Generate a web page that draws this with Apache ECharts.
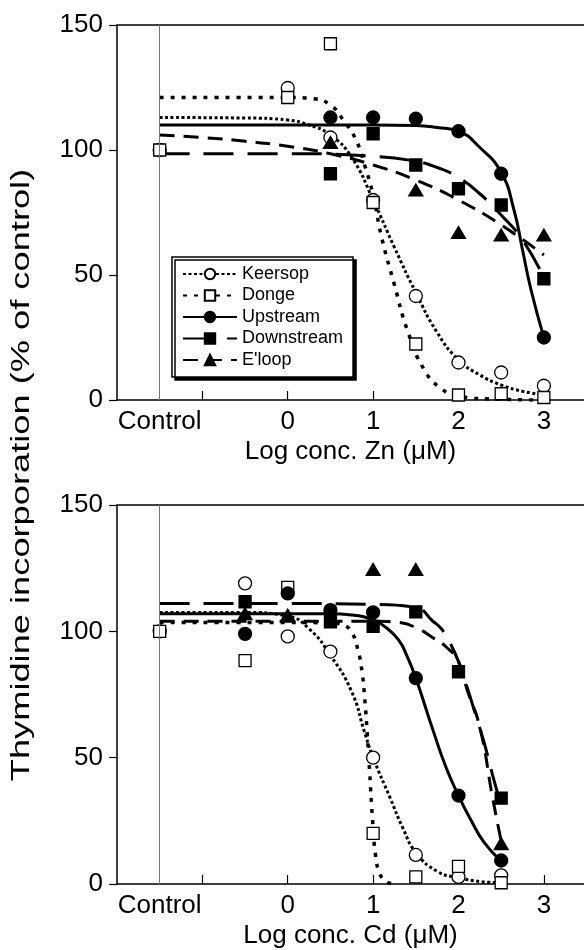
<!DOCTYPE html>
<html>
<head>
<meta charset="utf-8">
<script src="https://cdn.jsdelivr.net/npm/echarts@6/dist/echarts.min.js"></script>
<style>
  html, body { margin: 0; padding: 0; background: #fff; }
  #chart { width: 584px; height: 950px; }
</style>
</head>
<body>
<div id="chart"></div>
<script>
// x position used for the "Control" column (left of log 0)
const CTRL = -1.5;
const SAMPLES = ['Keersop', 'Donge', 'Upstream', 'Downstream', "E'loop"];

// ---- Zn panel: measured points ----
const ZN_X = [CTRL, 0, 0.5, 1, 1.5, 2, 2.5, 3];
const ZN_KEERSOP = [100, 124.8, 105, 80, 41.6, 15, 11, 5.7];
const ZN_DONGE = [100, 121, 142.5, 79, 22.4, 2, 2.5, 1];
const ZN_UPSTREAM = [null, null, 113, 113, 112.5, 107.5, 90.5, 25];
const ZN_DOWNSTREAM = [null, null, 90.5, 106.5, 94, 84.5, 78, 48.5];
const ZN_ELOOP = [null, null, 103, null, 84, 67, 66, 66];

// ---- Zn panel: fitted curves ----
const ZN_KEERSOP_CX = [CTRL, -0.5, 0, 0.25, 0.5, 0.75, 1, 1.25, 1.5, 1.75, 2, 2.25, 2.5, 2.75, 3];
const ZN_KEERSOP_CY = [113, 112.8, 112, 110, 106, 97, 80, 61, 43, 27, 16, 10, 6, 3.5, 2];
const ZN_DONGE_CX = [CTRL, 0, 0.3, 0.5, 0.65, 0.8, 0.9, 1, 1.1, 1.25, 1.4, 1.6, 1.8, 2, 2.5, 3];
const ZN_DONGE_CY = [121, 121, 120.5, 118, 112, 104, 94, 82, 65, 46, 28, 12, 4.5, 1.5, 0.3, 0];
const ZN_UPSTREAM_CX = [CTRL, 0, 1, 1.5, 1.75, 2, 2.25, 2.5, 2.65, 2.75, 2.85, 3];
const ZN_UPSTREAM_CY = [110, 110, 110, 109.8, 109, 107.5, 101, 91, 76, 60, 44, 25];
const ZN_DOWNSTREAM_CX = [CTRL, 0, 1, 1.5, 1.75, 2, 2.25, 2.5, 2.75, 3];
const ZN_DOWNSTREAM_CY = [98.5, 98.5, 97.5, 95.5, 93, 89, 82.5, 74, 64, 49];
const ZN_ELOOP_CX = [CTRL, -1, -0.5, 0, 0.5, 1, 1.5, 2, 2.5, 3];
const ZN_ELOOP_CY = [106, 105, 103.5, 101.5, 98.5, 94, 88, 80, 70, 58];

// ---- Cd panel: measured points ----
const CD_X = [CTRL, -0.5, 0, 0.5, 1, 1.5, 2, 2.5];
const CD_KEERSOP = [100, 119, 98, 92, 50, 11.5, 2.8, 3.4];
const CD_DONGE = [100, 88.4, 117.4, null, 20, 2.8, 7, 0.5];
const CD_UPSTREAM = [null, 99, 115, 108.4, 107.5, 81.5, 35, 9.3];
const CD_DOWNSTREAM = [null, 111.7, null, 103.8, 102, 107.7, 84, 34];
const CD_ELOOP = [null, 107, 106.4, null, 124.5, 124.5, null, 16];

// ---- Cd panel: fitted curves ----
const CD_KEERSOP_CX = [CTRL, -0.5, 0, 0.25, 0.5, 0.75, 0.9, 1, 1.2, 1.35, 1.5, 1.75, 2, 2.25, 2.5];
const CD_KEERSOP_CY = [107.5, 107.5, 106, 101, 90.5, 76, 60, 50, 34, 22, 12.5, 5, 2.5, 1, 0.5];
const CD_DONGE_CX = [CTRL, 0, 0.5, 0.65, 0.75, 0.82, 0.87, 0.9, 0.93, 0.96, 0.99, 1.03, 1.08, 1.15, 1.25];
const CD_DONGE_CY = [103.5, 103.5, 103.3, 102.5, 99.5, 93, 84, 74, 60, 44, 27, 11, 4, 1, 0];
const CD_UPSTREAM_CX = [CTRL, 0, 0.5, 0.75, 1, 1.15, 1.3, 1.4, 1.5, 1.7, 1.85, 2, 2.15, 2.3, 2.5];
const CD_UPSTREAM_CY = [107, 107, 107, 106.5, 104.5, 101.5, 96.5, 90, 81.5, 61, 46.5, 35, 25, 16.5, 9];
const CD_DOWNSTREAM_CX = [CTRL, 0, 1, 1.5, 1.7, 1.8, 1.9, 2, 2.1, 2.2, 2.3, 2.4, 2.5];
const CD_DOWNSTREAM_CY = [111, 111, 110.7, 109.5, 104, 101, 95.5, 88, 78, 67, 56, 43, 31];
const CD_ELOOP_CX = [CTRL, 0, 1, 1.3, 1.5, 1.7, 1.85, 2, 2.1, 2.25, 2.4, 2.5];
const CD_ELOOP_CY = [104, 104, 104, 103.5, 101.5, 97.5, 94, 88, 77, 62, 34, 17];

const FONT = "'Liberation Sans', Arial, Helvetica, sans-serif";

// look of each sample: marker + line dash
const LOOK = {
  'Keersop':    { symbol: 'circle',   size: 13, fill: '#fff', dash: [3, 2.5], width: 3 },
  'Donge':      { symbol: 'rect',     size: 12, fill: '#fff', dash: [4, 7],   width: 3.5 },
  'Upstream':   { symbol: 'circle',   size: 13, fill: '#000', dash: 'solid',  width: 3 },
  'Downstream': { symbol: 'rect',     size: 12, fill: '#000', dash: [30, 14], width: 3 },
  "E'loop":     { symbol: 'triangle', size: [14, 12], fill: '#000', dash: [15, 9], width: 3 }
};

function pairs(xs, ys) {
  const out = [];
  xs.forEach((x, i) => { if (ys[i] != null) out.push([x, ys[i]]); });
  return out;
}

function panelSeries(axisIdx, curves, points, xs) {
  const list = [];
  SAMPLES.forEach((name, i) => {
    const lk = LOOK[name];
    const s = {
      name: name,
      type: 'line',
      xAxisIndex: axisIdx, yAxisIndex: axisIdx,
      data: pairs(curves[i][0], curves[i][1]),
      smooth: 0.5,
      showSymbol: false,
      symbol: lk.symbol,
      symbolSize: lk.size,
      itemStyle: { color: lk.fill, borderColor: '#000', borderWidth: 1.3 },
      lineStyle: { color: '#000', width: lk.width, type: lk.dash },
      z: 2
    };
    if (i === 0) {
      // thin vertical line marking the control column
      s.markLine = {
        silent: true, symbol: 'none', label: { show: false },
        lineStyle: { color: '#777', width: 1, type: 'solid' },
        data: [{ xAxis: CTRL }]
      };
    }
    list.push(s);
  });
  SAMPLES.forEach((name, i) => {
    const lk = LOOK[name];
    list.push({
      name: name,
      type: 'scatter',
      xAxisIndex: axisIdx, yAxisIndex: axisIdx,
      data: pairs(xs, points[i]),
      symbol: lk.symbol,
      symbolSize: lk.size,
      itemStyle: { color: lk.fill, borderColor: '#000', borderWidth: 1.3, opacity: 1 },
      z: 3
    });
  });
  return list;
}

function xAxisFor(grid, title) {
  return {
    type: 'value', gridIndex: grid, min: -2, max: 3.47,
    axisLine: { onZero: false, lineStyle: { color: '#000', width: 1.5 } },
    axisTick: { inside: true, length: 9, lineStyle: { color: '#000', width: 1.2 }, customValues: [-1, 0, 1, 2, 3] },
    axisLabel: {
      customValues: [CTRL, 0, 1, 2, 3],
      formatter: v => (v < -1 ? 'Control' : String(v)),
      color: '#000', fontSize: 26, fontFamily: FONT, margin: 9
    },
    splitLine: { show: false },
    name: title, nameLocation: 'middle', nameGap: 39,
    nameTextStyle: { color: '#000', fontSize: 26, fontFamily: FONT }
  };
}

function topBorder(grid) {
  return {
    type: 'value', gridIndex: grid, position: 'top', min: -2, max: 3.47,
    axisLine: { onZero: false, lineStyle: { color: '#000', width: 1.5 } },
    axisTick: { show: false }, axisLabel: { show: false }, splitLine: { show: false }
  };
}

function yAxisFor(grid) {
  return {
    type: 'value', gridIndex: grid, min: 0, max: 150, interval: 50,
    axisLine: { show: true, onZero: false, lineStyle: { color: '#000', width: 1.5 } },
    axisTick: { show: true, length: 8, lineStyle: { color: '#000', width: 1.2 } },
    axisLabel: { color: '#000', fontSize: 26, fontFamily: FONT, margin: 14 },
    splitLine: { show: false }
  };
}

const chart = echarts.init(document.getElementById('chart'), null, { renderer: 'canvas' });

const znCurves = [
  [ZN_KEERSOP_CX, ZN_KEERSOP_CY], [ZN_DONGE_CX, ZN_DONGE_CY], [ZN_UPSTREAM_CX, ZN_UPSTREAM_CY],
  [ZN_DOWNSTREAM_CX, ZN_DOWNSTREAM_CY], [ZN_ELOOP_CX, ZN_ELOOP_CY]
];
const znPoints = [ZN_KEERSOP, ZN_DONGE, ZN_UPSTREAM, ZN_DOWNSTREAM, ZN_ELOOP];
const cdCurves = [
  [CD_KEERSOP_CX, CD_KEERSOP_CY], [CD_DONGE_CX, CD_DONGE_CY], [CD_UPSTREAM_CX, CD_UPSTREAM_CY],
  [CD_DOWNSTREAM_CX, CD_DOWNSTREAM_CY], [CD_ELOOP_CX, CD_ELOOP_CY]
];
const cdPoints = [CD_KEERSOP, CD_DONGE, CD_UPSTREAM, CD_DOWNSTREAM, CD_ELOOP];

const option = {
  animation: false,
  backgroundColor: '#fff',
  textStyle: { fontFamily: FONT },
  grid: [
    { left: 117, top: 25, right: 0, height: 375 },
    { left: 117, top: 505, right: 0, height: 379 }
  ],
  // axes 0/1 carry data, 2/3 only draw the top frame line
  xAxis: [xAxisFor(0, 'Log conc. Zn (μM)'), xAxisFor(1, 'Log conc. Cd (μM)'), topBorder(0), topBorder(1)],
  yAxis: [yAxisFor(0), yAxisFor(1)],
  legend: {
    data: SAMPLES,
    orient: 'vertical',
    left: 172, top: 257,
    itemWidth: 54, itemHeight: 13, itemGap: 3.5,
    padding: [8, 10, 8, 10],
    backgroundColor: '#fff',
    borderColor: '#000', borderWidth: 1.5,
    shadowColor: '#000', shadowOffsetX: 3, shadowOffsetY: 3, shadowBlur: 0,
    selectedMode: false,
    textStyle: { color: '#000', fontSize: 18, fontFamily: FONT }
  },
  graphic: [{
    type: 'text', x: 10, y: 475, rotation: Math.PI / 2, scaleX: 1.45,
    style: {
      text: 'Thymidine incorporation (% of control)', fontSize: 25, fontFamily: FONT, fill: '#000',
      align: 'center', verticalAlign: 'top'
    }
  }],
  series: panelSeries(0, znCurves, znPoints, ZN_X).concat(panelSeries(1, cdCurves, cdPoints, CD_X))
};

chart.setOption(option);
</script>
</body>
</html>
